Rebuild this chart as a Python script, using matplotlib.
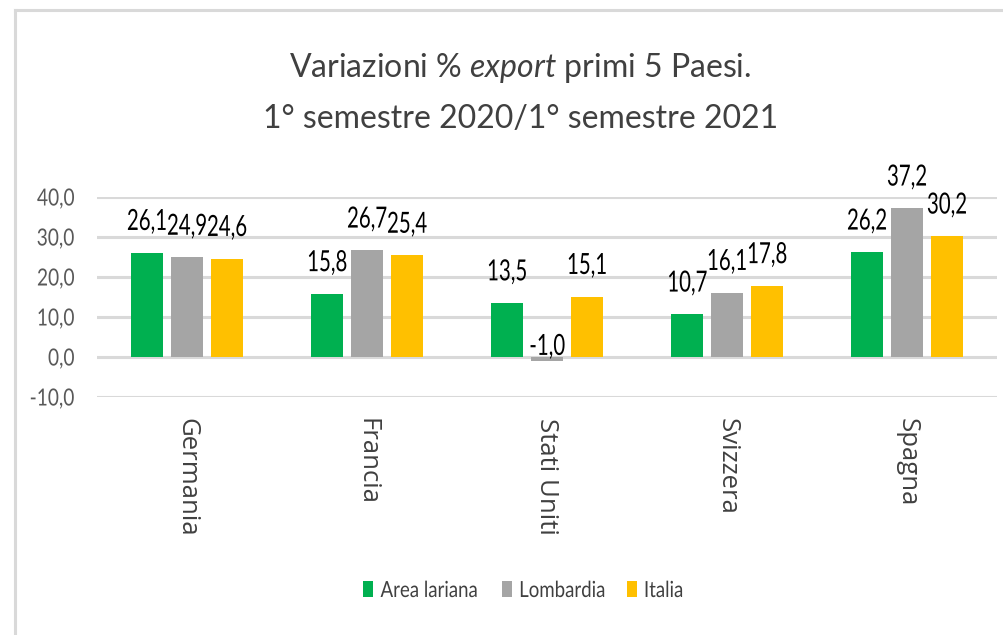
import matplotlib
matplotlib.use("Agg")
import matplotlib.pyplot as plt
import matplotlib.patheffects as pe
from matplotlib.transforms import Affine2D
from matplotlib.lines import Line2D
import numpy as np

# data
paesi = ["Germania", "Francia", "Stati Uniti", "Svizzera", "Spagna"]
area_lariana = [26.1, 15.8, 13.5, 10.7, 26.2]
lombardia = [24.9, 26.7, -1.0, 16.1, 37.2]
italia = [24.6, 25.4, 15.1, 17.8, 30.2]
serie = ["Area lariana", "Lombardia", "Italia"]
colori = ["#00B050", "#A5A5A5", "#FFC000"]
yticks = [-10, 0, 10, 20, 30, 40]


class Squeeze(pe.AbstractPathEffect):
    # squeeze text horizontally, the reference uses a condensed font
    def __init__(self, sx, anchor="center"):
        super().__init__()
        self.sx = sx
        self.anchor = anchor

    def draw_path(self, renderer, gc, tpath, affine, rgbFace=None):
        bb = tpath.get_extents(affine)
        if self.anchor == "left":
            cx = bb.x0
        elif self.anchor == "right":
            cx = bb.x1
        else:
            cx = (bb.x0 + bb.x1) / 2
        aff = affine + Affine2D().translate(-cx, 0).scale(self.sx, 1).translate(cx, 0)
        renderer.draw_path(gc, tpath, aff, rgbFace)


plt.rcParams["font.family"] = ["Lato", "DejaVu Sans"]
plt.rcParams["mathtext.fontset"] = "custom"
plt.rcParams["mathtext.rm"] = "Lato"
plt.rcParams["mathtext.it"] = "Lato:italic"

fig = plt.figure(figsize=(10.04, 6.35), dpi=100)
ax = fig.add_axes([97 / 1004, 1 - 397 / 635, 900 / 1004, 200 / 635])

x = np.arange(len(paesi))
step = 0.222
width = 0.178
for i, (vals, nome, col) in enumerate(zip([area_lariana, lombardia, italia], serie, colori)):
    xs = x + (i - 1) * step
    ax.bar(xs, vals, width, color=col, label=nome, zorder=3)
    for xi, v in zip(xs, vals):
        lab = f"{v:.1f}".replace(".", ",")
        off = 16.3 if v > 0 else 1.5
        ax.annotate(lab, (xi, max(v, 0)), xytext=(0, off), textcoords="offset points",
                    ha="center", va="baseline", fontsize=21, color="#000000", zorder=4,
                    path_effects=[Squeeze(0.7)])

ax.set_xlim(-0.5, 4.5)
ax.set_ylim(-10, 40)
ax.set_yticks(yticks)
ax.set_yticklabels([f"{t:.1f}".replace(".", ",") for t in yticks], fontsize=17, color="#595959")
for t in ax.get_yticklabels():
    t.set_path_effects([Squeeze(0.81, "right")])
ax.set_xticks(x)
ax.set_xticklabels(paesi, rotation=270, fontsize=18.5, color="#404040", family="Open Sans", va="top")
ax.tick_params(length=0, pad=16, axis="y")
ax.tick_params(length=0, pad=15, axis="x")
ax.grid(axis="y", color="#D9D9D9", linewidth=2.2, zorder=0)
for s in ax.spines.values():
    s.set_visible(False)

fig.text(0.518, 1 - 77 / 635, r"Variazioni % $\mathit{export}$ primi 5 Paesi.",
         ha="center", va="baseline", fontsize=23, color="#404040")
fig.text(0.518, 1 - 128 / 635, "1° semestre 2020/1° semestre 2021",
         ha="center", va="baseline", fontsize=23, color="#404040")

leg = fig.legend(loc="center", bbox_to_anchor=(527 / 1004, 1 - 591 / 635), ncol=3, frameon=False,
                 fontsize=16, handlelength=0.45, handleheight=0.75, handletextpad=0.32,
                 columnspacing=0.2)
for t in leg.get_texts():
    t.set_color("#404040")
    t.set_path_effects([Squeeze(0.84, "left")])

# chart frame (light gray border)
fig.add_artist(Line2D([15 / 1004, 15 / 1004], [0, 1 - 10 / 635], color="#D9D9D9", linewidth=2.2))
fig.add_artist(Line2D([15 / 1004, 1], [1 - 10 / 635, 1 - 10 / 635], color="#D9D9D9", linewidth=2.2))

fig.savefig("out.png", dpi=100)
